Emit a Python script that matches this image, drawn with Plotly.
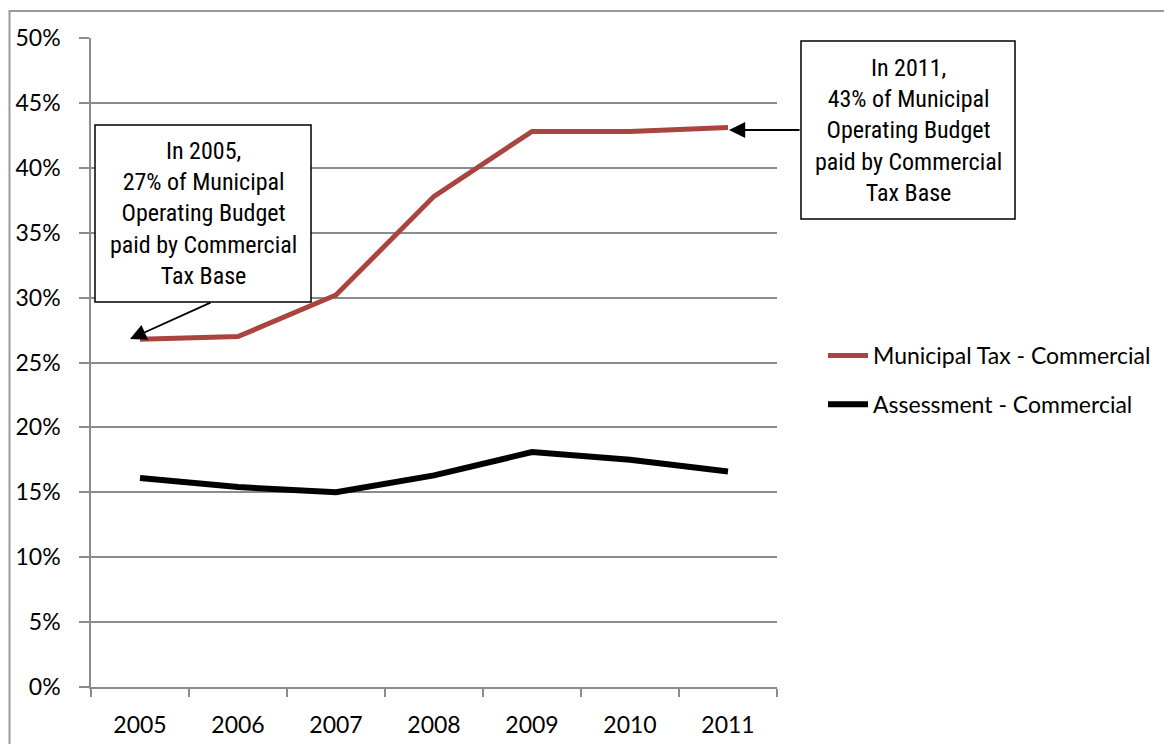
import plotly.graph_objects as go

years = ["2005", "2006", "2007", "2008", "2009", "2010", "2011"]
municipal_tax = [26.8, 27.0, 30.2, 37.8, 42.8, 42.8, 43.1]
assessment = [16.1, 15.4, 15.0, 16.3, 18.1, 17.5, 16.6]
y_ticks = [0, 5, 10, 15, 20, 25, 30, 35, 40, 45, 50]
y_tick_labels = [f"{v}%" for v in y_ticks]

OFF = 8  # page body margin
W, H = 1172 - OFF, 744 - OFF
L, R, T, B = 91, 777, 38, 687  # plot area in screen pixels
pw, ph = R - L, B - T

def px(x):
    return (x - L) / pw

def py(y):
    return (B - y) / ph

TICK_FONT = dict(family="Lato, Calibri, Carlito, sans-serif", size=23, color="#000000")
NOTE_FONT = dict(family="Liberation Sans Narrow, Arial Narrow, Roboto Condensed, DejaVu Sans Condensed, sans-serif",
                 size=24, color="#000000")

fig = go.Figure()
fig.add_trace(go.Scatter(x=years, y=municipal_tax, mode="lines", name="Municipal Tax - Commercial",
                         legendgroup="a", line=dict(color="#A9443F", width=5)))
fig.add_trace(go.Scatter(x=years, y=assessment, mode="lines", name="Assessment - Commercial",
                         legendgroup="b", line=dict(color="#000000", width=6)))

fig.update_layout(
    width=W, height=H,
    margin=dict(l=L - OFF, r=W - (R - OFF), t=T - OFF, b=H - (B - OFF), autoexpand=False),
    paper_bgcolor="white", plot_bgcolor="white",
    showlegend=True,
    legend=dict(x=px(823), y=py(380), xanchor="left", yanchor="middle",
                font=TICK_FONT, bgcolor="rgba(0,0,0,0)", traceorder="grouped",
                tracegroupgap=16, itemwidth=40),
    xaxis=dict(type="category", range=[-0.5, 6.5], showgrid=False, automargin=False,
               showline=True, linecolor="#8c8c8c", linewidth=1.5,
               ticks="outside", tickson="boundaries", ticklen=8, tickcolor="#8c8c8c", tickwidth=1.5,
               ticklabelstandoff=17, tickfont=TICK_FONT, fixedrange=True),
    yaxis=dict(range=[0, 50], tickvals=y_ticks, ticktext=y_tick_labels, automargin=False,
               showgrid=True, gridcolor="#8c8c8c", gridwidth=1.5,
               showline=True, linecolor="#8c8c8c", linewidth=1.5,
               ticks="outside", ticklen=10, tickcolor="#8c8c8c", tickwidth=1.5,
               ticklabelstandoff=14, tickfont=TICK_FONT, zeroline=False, fixedrange=True),
)

# outer chart frame
fig.add_shape(type="rect", xref="paper", yref="paper",
              x0=px(9.5), x1=px(1185), y0=py(11), y1=py(770),
              line=dict(color="#999999", width=2), layer="below")

# callout boxes
notes = [
    ("In 2005,<br>27% of Municipal<br>Operating Budget<br>paid by Commercial<br>Tax Base", 95, 311, 125, 302),
    ("In 2011,<br>43% of Municipal<br>Operating Budget<br>paid by Commercial<br>Tax Base", 801, 1015, 41, 219),
]
for text, x0, x1, y0, y1 in notes:
    fig.add_shape(type="rect", xref="paper", yref="paper",
                  x0=px(x0), x1=px(x1), y0=py(y0), y1=py(y1),
                  line=dict(color="#000000", width=1.5), fillcolor="white", layer="above")
    fig.add_annotation(xref="paper", yref="paper", x=px((x0 + x1) / 2), y=py((y0 + y1) / 2),
                       text=text, showarrow=False, font=NOTE_FONT, align="center",
                       xanchor="center", yanchor="middle")

# arrows
fig.add_annotation(xref="paper", yref="paper", x=px(130), y=py(339), text="",
                   showarrow=True, ax=82, ay=-37, arrowhead=2, arrowsize=1.8,
                   arrowwidth=1.8, arrowcolor="#000000")
fig.add_annotation(xref="paper", yref="paper", x=px(729), y=py(130), text="",
                   showarrow=True, ax=72, ay=0, arrowhead=2, arrowsize=1.8,
                   arrowwidth=1.8, arrowcolor="#000000")

fig.write_html("out.html")
